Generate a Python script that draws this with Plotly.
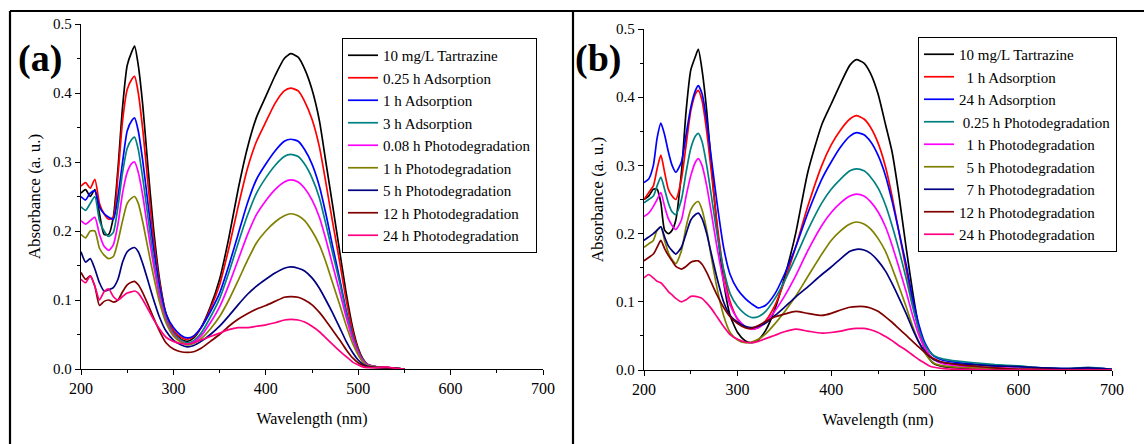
import plotly.graph_objects as go

# ---------------- Panel (a) data ----------------
wl_a = [200, 205, 210, 215, 220, 225, 230, 235, 240, 245, 250, 255, 258, 262, 267, 272, 278, 285, 292, 300,
        308, 315, 322, 330, 340, 350, 360, 370, 380, 390, 400, 410, 420, 427, 435, 442, 450, 458, 465, 472,
        480, 487, 494, 500, 505, 510, 520, 530, 540, 550]

labels_a = ["10 mg/L Tartrazine", "0.25 h Adsorption", "1 h Adsorption", "3 h Adsorption",
            "0.08 h Photodegradation", "1 h Photodegradation", "5 h Photodegradation",
            "12 h Photodegradation", "24 h Photodegradation"]

a_black = [0.255, 0.26, 0.25, 0.26, 0.225, 0.195, 0.195, 0.22, 0.29, 0.38, 0.44, 0.46, 0.468, 0.44, 0.38, 0.30, 0.21, 0.13, 0.08, 0.055,
           0.043, 0.04, 0.045, 0.06, 0.09, 0.13, 0.19, 0.26, 0.32, 0.365, 0.395, 0.425, 0.45, 0.457, 0.452, 0.435, 0.405, 0.36, 0.30, 0.24,
           0.17, 0.11, 0.06, 0.03, 0.015, 0.007, 0.003, 0.002, 0.001, 0.0]
a_red = [0.265, 0.27, 0.262, 0.275, 0.24, 0.225, 0.217, 0.22, 0.28, 0.36, 0.405, 0.42, 0.424, 0.40, 0.345, 0.275, 0.195, 0.125, 0.08, 0.056,
         0.046, 0.043, 0.047, 0.06, 0.087, 0.122, 0.175, 0.235, 0.29, 0.33, 0.358, 0.385, 0.403, 0.407, 0.403, 0.388, 0.362, 0.322, 0.27, 0.215,
         0.155, 0.10, 0.055, 0.028, 0.014, 0.007, 0.003, 0.002, 0.001, 0.0]
a_blue = [0.25, 0.245, 0.255, 0.258, 0.235, 0.225, 0.22, 0.217, 0.25, 0.30, 0.345, 0.36, 0.364, 0.345, 0.30, 0.245, 0.18, 0.12, 0.08, 0.06,
          0.049, 0.045, 0.048, 0.06, 0.083, 0.11, 0.15, 0.195, 0.24, 0.275, 0.297, 0.316, 0.33, 0.333, 0.33, 0.318, 0.297, 0.265, 0.225, 0.18,
          0.13, 0.085, 0.048, 0.025, 0.013, 0.006, 0.003, 0.002, 0.001, 0.0]
a_teal = [0.235, 0.23, 0.24, 0.25, 0.215, 0.20, 0.192, 0.198, 0.235, 0.285, 0.32, 0.333, 0.336, 0.318, 0.275, 0.225, 0.165, 0.11, 0.073, 0.052,
          0.042, 0.038, 0.041, 0.052, 0.075, 0.102, 0.14, 0.182, 0.222, 0.255, 0.277, 0.295, 0.308, 0.311, 0.308, 0.297, 0.277, 0.248, 0.21, 0.17,
          0.125, 0.082, 0.047, 0.025, 0.013, 0.006, 0.003, 0.002, 0.001, 0.0]
a_magenta = [0.215, 0.21, 0.215, 0.22, 0.195, 0.178, 0.172, 0.18, 0.21, 0.255, 0.285, 0.298, 0.30, 0.285, 0.25, 0.205, 0.155, 0.105, 0.07, 0.05,
             0.04, 0.036, 0.039, 0.048, 0.067, 0.09, 0.122, 0.158, 0.194, 0.224, 0.244, 0.26, 0.271, 0.274, 0.271, 0.262, 0.245, 0.22, 0.188, 0.152,
             0.112, 0.075, 0.043, 0.023, 0.012, 0.006, 0.003, 0.002, 0.001, 0.0]
a_olive = [0.195, 0.19, 0.20, 0.20, 0.175, 0.165, 0.16, 0.163, 0.185, 0.215, 0.24, 0.248, 0.25, 0.24, 0.212, 0.178, 0.138, 0.097, 0.067, 0.048,
           0.039, 0.035, 0.037, 0.044, 0.058, 0.076, 0.10, 0.128, 0.157, 0.183, 0.20, 0.213, 0.222, 0.225, 0.222, 0.215, 0.20, 0.18, 0.155, 0.126,
           0.093, 0.063, 0.037, 0.02, 0.01, 0.005, 0.003, 0.002, 0.001, 0.0]
a_navy = [0.17, 0.155, 0.16, 0.145, 0.125, 0.113, 0.115, 0.118, 0.13, 0.155, 0.17, 0.175, 0.176, 0.17, 0.152, 0.13, 0.103, 0.075, 0.055, 0.042,
          0.035, 0.032, 0.034, 0.04, 0.05, 0.062, 0.077, 0.093, 0.108, 0.12, 0.13, 0.139, 0.146, 0.148, 0.146, 0.142, 0.132, 0.117, 0.10, 0.082,
          0.06, 0.04, 0.024, 0.013, 0.007, 0.004, 0.002, 0.002, 0.001, 0.0]
a_maroon = [0.14, 0.13, 0.135, 0.12, 0.092, 0.098, 0.10, 0.097, 0.10, 0.112, 0.122, 0.126, 0.127, 0.122, 0.11, 0.095, 0.076, 0.055, 0.038, 0.029,
            0.025, 0.024, 0.025, 0.03, 0.04, 0.05, 0.062, 0.072, 0.08, 0.087, 0.092, 0.098, 0.104, 0.105, 0.104, 0.10, 0.093, 0.082, 0.07, 0.057,
            0.042, 0.028, 0.016, 0.009, 0.005, 0.003, 0.002, 0.002, 0.001, 0.0]
a_pink = [0.13, 0.125, 0.135, 0.12, 0.10, 0.112, 0.116, 0.105, 0.10, 0.105, 0.11, 0.112, 0.113, 0.11, 0.10, 0.088, 0.073, 0.058, 0.046, 0.04,
          0.037, 0.036, 0.038, 0.042, 0.047, 0.052, 0.057, 0.06, 0.06, 0.062, 0.064, 0.067, 0.071, 0.072, 0.071, 0.068, 0.062, 0.054, 0.045, 0.036,
          0.026, 0.018, 0.01, 0.006, 0.003, 0.002, 0.002, 0.003, 0.001, 0.0]

# ---------------- Panel (b) data ----------------
wl_b = [200, 205, 210, 214, 218, 222, 226, 230, 234, 240, 245, 250, 255, 258, 262, 267, 272, 278, 285, 292,
        300, 308, 315, 322, 330, 340, 350, 362, 375, 390, 400, 410, 420, 427, 435, 442, 450, 458, 465, 472,
        480, 487, 494, 500, 505, 510, 520, 535, 550, 575, 600, 625, 650, 675, 700]

labels_b = ["10 mg/L Tartrazine", "\u00a0\u00a01 h Adsorption", "24 h Adsorption",
            "\u00a00.25 h Photodegradation", "\u00a0\u00a01 h Photodegradation",
            "\u00a0\u00a05 h Photodegradation", "\u00a0\u00a07 h Photodegradation",
            "12 h Photodegradation", "24 h Photodegradation"]

b_black = [0.25, 0.255, 0.265, 0.265, 0.245, 0.205, 0.20, 0.205, 0.22, 0.29, 0.38, 0.44, 0.46, 0.47, 0.44, 0.38, 0.30, 0.21, 0.13, 0.08,
           0.055, 0.043, 0.04, 0.044, 0.058, 0.09, 0.135, 0.20, 0.29, 0.36, 0.39, 0.42, 0.447, 0.455, 0.45, 0.435, 0.405, 0.36, 0.32, 0.26,
           0.18, 0.115, 0.06, 0.03, 0.016, 0.009, 0.005, 0.003, 0.002, 0.001, 0.001, 0.0, 0.0, 0.0, 0.0]
b_red = [0.25, 0.26, 0.27, 0.295, 0.315, 0.29, 0.265, 0.255, 0.25, 0.28, 0.33, 0.38, 0.405, 0.41, 0.395, 0.35, 0.29, 0.215, 0.145, 0.10,
         0.074, 0.063, 0.06, 0.062, 0.072, 0.095, 0.13, 0.18, 0.24, 0.30, 0.33, 0.352, 0.368, 0.373, 0.368, 0.356, 0.333, 0.298, 0.255, 0.205,
         0.148, 0.098, 0.057, 0.033, 0.022, 0.016, 0.01, 0.007, 0.005, 0.003, 0.002, 0.001, 0.001, 0.001, 0.0]
b_blue = [0.275, 0.28, 0.30, 0.34, 0.362, 0.345, 0.32, 0.30, 0.29, 0.305, 0.345, 0.385, 0.41, 0.417, 0.405, 0.365, 0.31, 0.245, 0.18, 0.14,
          0.118, 0.105, 0.097, 0.091, 0.095, 0.112, 0.14, 0.18, 0.23, 0.28, 0.305, 0.327, 0.343, 0.348, 0.345, 0.335, 0.315, 0.285, 0.248, 0.205,
          0.155, 0.105, 0.065, 0.04, 0.028, 0.02, 0.014, 0.011, 0.009, 0.006, 0.005, 0.003, 0.002, 0.003, 0.001]
b_teal = [0.245, 0.25, 0.255, 0.27, 0.283, 0.265, 0.245, 0.232, 0.228, 0.25, 0.29, 0.325, 0.343, 0.347, 0.335, 0.30, 0.255, 0.20, 0.148, 0.112,
          0.093, 0.082, 0.077, 0.078, 0.086, 0.105, 0.13, 0.165, 0.205, 0.245, 0.265, 0.28, 0.292, 0.295, 0.292, 0.283, 0.267, 0.242, 0.212, 0.178,
          0.135, 0.093, 0.058, 0.037, 0.027, 0.021, 0.016, 0.013, 0.011, 0.008, 0.006, 0.003, 0.002, 0.004, 0.001]
b_magenta = [0.225, 0.23, 0.24, 0.25, 0.26, 0.24, 0.222, 0.212, 0.206, 0.22, 0.255, 0.285, 0.305, 0.31, 0.30, 0.27, 0.23, 0.18, 0.13, 0.095,
             0.075, 0.064, 0.06, 0.062, 0.07, 0.087, 0.108, 0.138, 0.175, 0.212, 0.231, 0.245, 0.255, 0.258, 0.255, 0.247, 0.232, 0.21, 0.183, 0.152,
             0.115, 0.08, 0.05, 0.032, 0.022, 0.015, 0.009, 0.006, 0.004, 0.003, 0.002, 0.001, 0.001, 0.001, 0.0]
b_olive = [0.18, 0.185, 0.19, 0.205, 0.21, 0.19, 0.172, 0.162, 0.156, 0.175, 0.21, 0.235, 0.245, 0.247, 0.235, 0.205, 0.165, 0.12, 0.08, 0.055,
           0.044, 0.04, 0.041, 0.045, 0.053, 0.068, 0.085, 0.108, 0.137, 0.17, 0.19, 0.204, 0.214, 0.217, 0.214, 0.207, 0.193, 0.174, 0.15, 0.124,
           0.093, 0.064, 0.04, 0.025, 0.016, 0.01, 0.006, 0.004, 0.003, 0.002, 0.001, 0.001, 0.0, 0.0, 0.0]
b_navy = [0.19, 0.195, 0.20, 0.205, 0.21, 0.195, 0.182, 0.175, 0.17, 0.18, 0.20, 0.22, 0.228, 0.23, 0.222, 0.20, 0.17, 0.135, 0.10, 0.08,
          0.07, 0.064, 0.062, 0.064, 0.069, 0.08, 0.092, 0.107, 0.122, 0.14, 0.151, 0.163, 0.174, 0.177, 0.176, 0.171, 0.16, 0.145, 0.127, 0.107,
          0.083, 0.06, 0.04, 0.027, 0.02, 0.015, 0.011, 0.009, 0.008, 0.006, 0.005, 0.003, 0.002, 0.003, 0.001]
b_maroon = [0.16, 0.165, 0.17, 0.18, 0.19, 0.178, 0.168, 0.16, 0.152, 0.148, 0.152, 0.158, 0.16, 0.16, 0.155, 0.143, 0.128, 0.11, 0.092, 0.078,
            0.068, 0.062, 0.061, 0.065, 0.071, 0.078, 0.082, 0.086, 0.083, 0.08, 0.083, 0.088, 0.092, 0.093, 0.093, 0.091, 0.086, 0.078, 0.07, 0.061,
            0.051, 0.042, 0.033, 0.026, 0.02, 0.016, 0.011, 0.008, 0.006, 0.003, 0.001, 0.001, 0.0, 0.0, 0.0]
b_pink = [0.135, 0.14, 0.135, 0.13, 0.128, 0.122, 0.115, 0.11, 0.105, 0.10, 0.103, 0.108, 0.108, 0.107, 0.105, 0.098, 0.09, 0.078, 0.064, 0.052,
          0.045, 0.041, 0.04, 0.042, 0.046, 0.051, 0.056, 0.06, 0.057, 0.054, 0.055, 0.057, 0.06, 0.061, 0.061, 0.059, 0.055, 0.049, 0.043, 0.036,
          0.029, 0.022, 0.015, 0.01, 0.006, 0.004, 0.002, 0.001, 0.001, 0.0, 0.0, 0.0, 0.0, 0.0, 0.0]

colors = ["#000000", "#FF0000", "#0000FF", "#008080", "#FF00FF", "#808000", "#000080", "#800000", "#FF0080"]

series_a = [a_black, a_red, a_blue, a_teal, a_magenta, a_olive, a_navy, a_maroon, a_pink]
series_b = [b_black, b_red, b_blue, b_teal, b_magenta, b_olive, b_navy, b_maroon, b_pink]

FONT = "Liberation Serif"

fig = go.Figure()
for lab, ys, c in zip(labels_a, series_a, colors):
    fig.add_trace(go.Scatter(x=wl_a, y=ys, mode="lines", name=lab,
                             line=dict(color=c, width=1.7, shape="spline", smoothing=0.6),
                             xaxis="x", yaxis="y", legend="legend"))
for lab, ys, c in zip(labels_b, series_b, colors):
    fig.add_trace(go.Scatter(x=wl_b, y=ys, mode="lines", name=lab,
                             line=dict(color=c, width=1.7, shape="spline", smoothing=0.6),
                             xaxis="x2", yaxis="y2", legend="legend2"))

W, H = 1144, 444

def px_x(p):
    return p / W

def px_y(p):
    return 1 - p / H

common_x = dict(range=[200, 700], dtick=100, tick0=200, showline=True, linecolor="black", linewidth=1.3,
                ticks="outside", ticklen=5, tickwidth=1.2, tickcolor="black", showgrid=False, zeroline=False,
                automargin=False,
                tickfont=dict(family=FONT, size=16, color="black"),
                minor=dict(dtick=50, tick0=200, ticks="outside", ticklen=3, tickwidth=1.2, tickcolor="black", showgrid=False),
                title=dict(text="Wavelength (nm)", font=dict(family=FONT, size=16, color="black"), standoff=16))
common_y = dict(range=[0, 0.5], dtick=0.1, tick0=0, tickformat=".1f", showline=True, linecolor="black", linewidth=1.3,
                ticks="outside", ticklen=5, tickwidth=1.2, tickcolor="black", showgrid=False, zeroline=False,
                automargin=False,
                tickfont=dict(family=FONT, size=15, color="black"),
                minor=dict(dtick=0.05, tick0=0, ticks="outside", ticklen=3, tickwidth=1.2, tickcolor="black", showgrid=False),
                title=dict(text="Absorbance (a. u.)", font=dict(family=FONT, size=17, color="black"), standoff=8))

legend_common = dict(bgcolor="white", bordercolor="black", borderwidth=1,
                     font=dict(family=FONT, size=15, color="black"),
                     xanchor="left", yanchor="top", tracegroupgap=0, itemwidth=30)

fig.update_layout(
    width=W, height=H,
    margin=dict(l=0, r=0, t=0, b=0, autoexpand=False),
    paper_bgcolor="white", plot_bgcolor="white",
    font=dict(family=FONT, color="black"),
    xaxis=dict(domain=[px_x(81), px_x(543)], anchor="y", **common_x),
    yaxis=dict(domain=[px_y(369), px_y(24)], anchor="x", **common_y),
    xaxis2=dict(domain=[px_x(644), px_x(1112)], anchor="y2", **common_x),
    yaxis2=dict(domain=[px_y(370), px_y(29)], anchor="x2", **common_y),
    legend=dict(x=px_x(342), y=px_y(38), **legend_common),
    legend2=dict(x=px_x(918), y=px_y(37), **legend_common),
    showlegend=True,
)

# panel labels
fig.add_annotation(text="<b>(a)</b>", x=px_x(40), y=px_y(59), xref="paper", yref="paper",
                   xanchor="center", yanchor="middle",
                   showarrow=False, font=dict(family=FONT, size=38, color="black"))
fig.add_annotation(text="<b>(b)</b>", x=px_x(598), y=px_y(58), xref="paper", yref="paper",
                   xanchor="center", yanchor="middle",
                   showarrow=False, font=dict(family=FONT, size=38, color="black"))

# outer frame lines
for (x0, y0, x1, y1) in [(10, 11, W, 11), (10, 11, 10, H), (573, 11, 573, H)]:
    fig.add_shape(type="line", xref="paper", yref="paper",
                  x0=px_x(x0), y0=px_y(y0), x1=px_x(x1), y1=px_y(y1),
                  line=dict(color="black", width=2.2))

fig.write_html("out.html")
